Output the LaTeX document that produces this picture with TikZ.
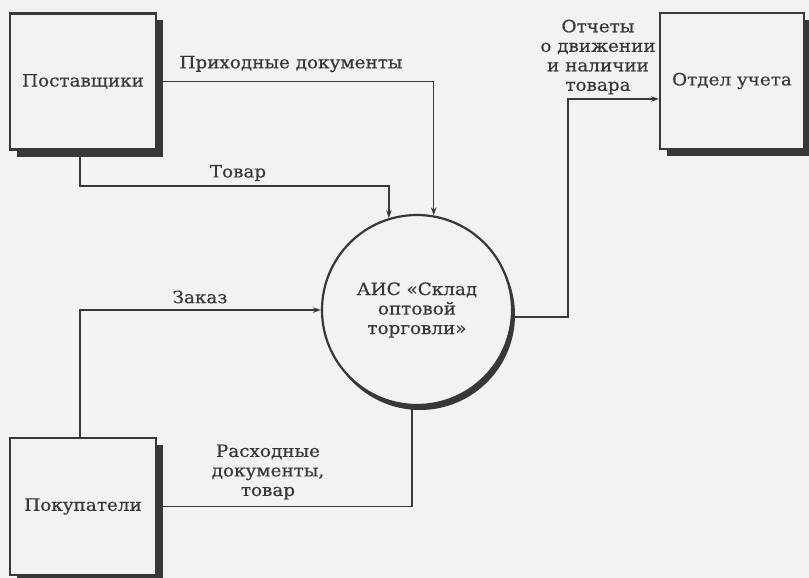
\documentclass[tikz,border=0pt]{standalone}
\usepackage{fontspec}
\setmainfont[FakeStretch=1.08,FakeBold=0.5]{DejaVu Serif}
\usetikzlibrary{arrows.meta,shadows,calc}
\definecolor{ink}{HTML}{383838}
\definecolor{paper}{HTML}{F2F2F2}
\begin{document}
\begin{tikzpicture}[x=1pt,y=-1pt,
  font=\fontsize{17}{19.5}\selectfont,
  entity/.style={draw=ink, line width=2.2pt, fill=paper, text=ink,
    minimum width=146pt, minimum height=136pt, inner sep=0pt,
    general shadow={fill=ink, draw=none, shadow xshift=7pt, shadow yshift=-7pt}},
  process/.style={circle, draw=ink, line width=2.2pt, fill=paper, text=ink,
    minimum size=190pt, inner sep=0pt, align=center,
    general shadow={fill=ink, draw=none, shadow xshift=3pt, shadow yshift=-5pt}},
  flow/.style={draw=ink, line width=1.6pt},
  flowarrow/.style={flow, -{Stealth[length=8pt,width=5.5pt]}},
  lbl/.style={align=center, inner sep=0pt, text=ink}]

\useasboundingbox[fill=paper] (0,0) rectangle (809,578);

% external entities and the process
\node[entity] (sup) at (83,81.5) {Поставщики};
\node[entity, minimum width=144pt] (otd) at (732,81) {Отдел учета};
\node[entity, minimum height=137pt] (pok) at (83,506.5) {Покупатели};
\node[process] (ais) at (417,310) {АИС «Склад\\оптовой\\торговли»};

% bend points of the flows
\coordinate (tbend) at (80,186);
\coordinate (zbend) at (80,310);
\coordinate (obend) at (568,99);

% data flows
\draw[flowarrow] (sup.east) -| (ais.80);
\draw[flowarrow] (sup.south -| tbend) -- (tbend) -| (ais.107);
\draw[flowarrow] (pok.north -| zbend) -- (zbend) -- (ais.west);
\draw[flow] (ais.267) |- (pok.east);
\draw[flowarrow] (ais.-4) -| (obend) -- (obend -| otd.west);

% flow labels
\node[lbl] (lprih) at (291,64) {Приходные документы};
\node[lbl] (ltov) at (238,173) {Товар};
\node[lbl] (lzak) at (200,297) {Заказ};
\node[lbl] (lrash) at (268,472) {Расходные\\документы,\\товар};
\node[lbl] (lotch) at (598,57) {Отчеты\\о движении\\и наличии\\товара};
\end{tikzpicture}
\end{document}
